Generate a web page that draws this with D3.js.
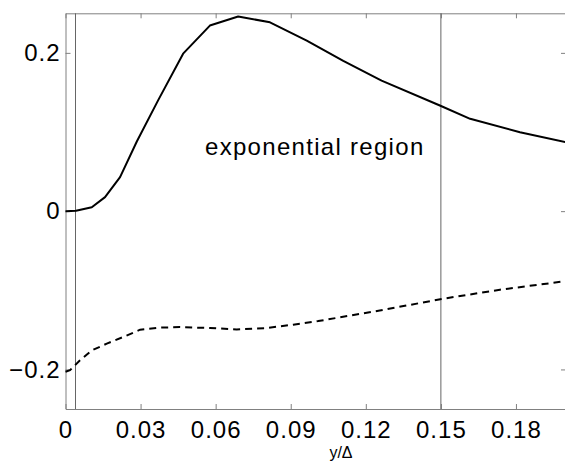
<html>
<script src='https://d3js.org/d3.v7.min.js'></script>
<style>
body {margin: 0; background: white;}
text {font-family: "Liberation Sans", Arial, sans-serif;}
</style>
<body>
<svg width=565 height=461></svg>
<script>
// solid curve (growth rate)
var solidX = [0, 0.0042, 0.0105, 0.0158, 0.0218, 0.0285, 0.037, 0.047, 0.0577, 0.069, 0.0817, 0.0964, 0.111, 0.1263, 0.1496, 0.1617, 0.1816, 0.2];
var solidY = [0, 0.0005, 0.005, 0.0177, 0.043, 0.088, 0.140, 0.199, 0.2345, 0.246, 0.2386, 0.2155, 0.190, 0.165, 0.1335, 0.1167, 0.0998, 0.087];
// dashed curve
var dashX = [0, 0.0018, 0.0058, 0.0105, 0.0165, 0.0231, 0.0298, 0.0378, 0.0457, 0.0577, 0.0684, 0.0804, 0.091, 0.101, 0.1256, 0.151, 0.1736, 0.2];
var dashY = [-0.203, -0.201, -0.1885, -0.176, -0.1674, -0.159, -0.1498, -0.1472, -0.1465, -0.1477, -0.1494, -0.1477, -0.1434, -0.1389, -0.1255, -0.1106, -0.0993, -0.0884];
// vertical marker lines
var markers = [0.004, 0.15];
var xTicks = [0, 0.03, 0.06, 0.09, 0.12, 0.15, 0.18];
var xTickLabels = ["0", "0.03", "0.06", "0.09", "0.12", "0.15", "0.18"];
var yTicks = [-0.2, 0, 0.2];
var yTickLabels = ["\u22120.2", "0", "0.2"];

var svg = d3.select("svg");
var pLeft = 65.5, pRight = 566, pTop = 13.3, pBottom = 409;

var x = d3.scaleLinear().domain([0, 0.2]).range([pLeft, pRight]);
var y = d3.scaleLinear().domain([-0.25, 0.25]).range([pBottom, pTop]);

var axisColor = "#808080";

// axes (ticks point inward, box on all four sides)
var gx = svg.append("g").attr("transform", "translate(0," + pBottom + ")")
   .call(d3.axisBottom(x).tickValues(xTicks).tickSizeInner(-5).tickSizeOuter(0).tickPadding(12)
         .tickFormat(function(d, i) { return xTickLabels[i]; }));
var gy = svg.append("g").attr("transform", "translate(" + pLeft + ",0)")
   .call(d3.axisLeft(y).tickValues(yTicks).tickSizeInner(-5).tickSizeOuter(0).tickPadding(5)
         .tickFormat(function(d, i) { return yTickLabels[i]; }));
var gt = svg.append("g").attr("transform", "translate(0," + pTop + ")")
   .call(d3.axisTop(x).tickValues(xTicks).tickSizeInner(-5).tickSizeOuter(0).tickFormat(""));
var gr = svg.append("g").attr("transform", "translate(" + pRight + ",0)")
   .call(d3.axisRight(y).tickValues(yTicks).tickSizeInner(-5).tickSizeOuter(0).tickFormat(""));

svg.selectAll(".domain, .tick line").attr("stroke", axisColor).attr("stroke-width", 1);
svg.selectAll(".tick text").attr("fill", "#000").style("font-size", "24px").style("letter-spacing", "1px");
gx.selectAll(".tick text").attr("dy", "0.71em");

// vertical marker lines
svg.append("g").selectAll("line").data(markers).enter().append("line")
   .attr("x1", function(d) { return x(d); }).attr("x2", function(d) { return x(d); })
   .attr("y1", pTop).attr("y2", pBottom)
   .attr("stroke", "#666").attr("stroke-width", 1);

var line = d3.line()
   .x(function(d) { return x(d[0]); })
   .y(function(d) { return y(d[1]); });

svg.append("path")
   .datum(d3.zip(solidX, solidY))
   .attr("d", line)
   .attr("fill", "none").attr("stroke", "#000").attr("stroke-width", 2)
   .attr("stroke-linejoin", "round");

svg.append("path")
   .datum(d3.zip(dashX, dashY))
   .attr("d", line)
   .attr("fill", "none").attr("stroke", "#000").attr("stroke-width", 2)
   .attr("stroke-dasharray", "7,5");

svg.append("text")
   .attr("x", 205).attr("y", 155)
   .style("font-size", "24px").style("letter-spacing", "1.3px")
   .text("exponential region");

svg.append("text")
   .attr("x", 341).attr("y", 458)
   .style("text-anchor", "middle").style("font-size", "16px")
   .text("y/\u0394");
</script>
</body>
</html>
